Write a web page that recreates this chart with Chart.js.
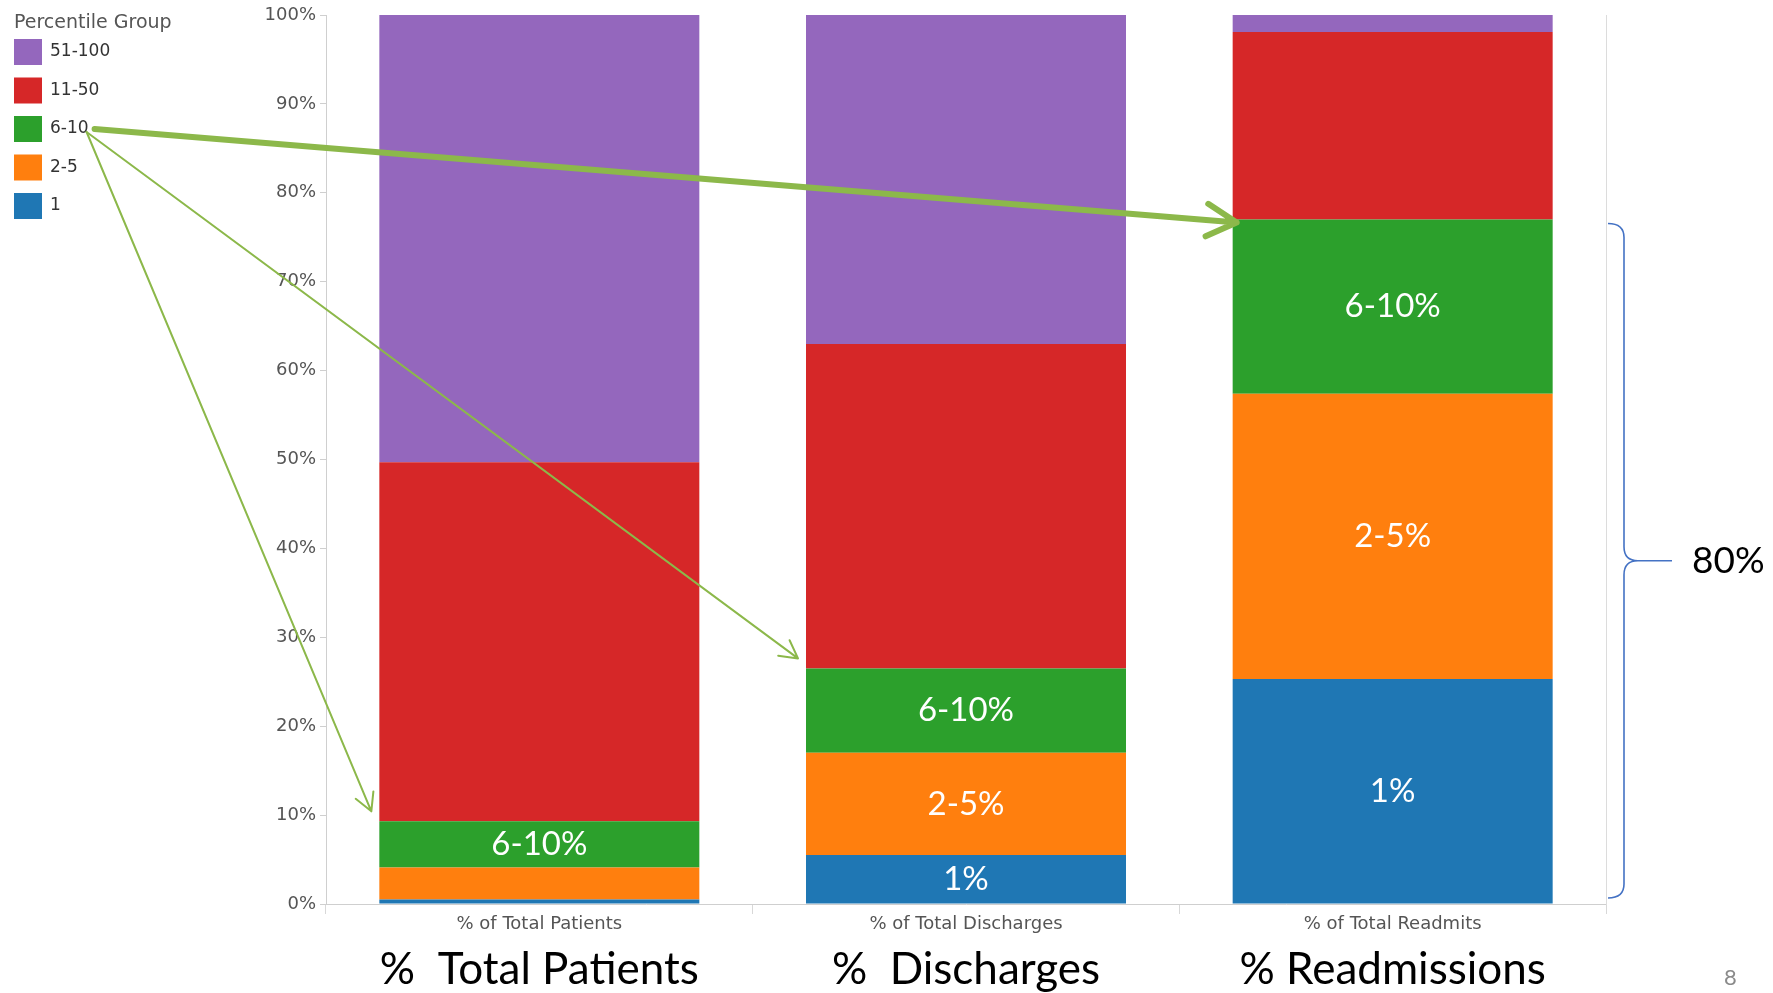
<!DOCTYPE html>
<html>
<head>
<meta charset="utf-8">
<script src="https://cdn.jsdelivr.net/npm/chart.js@4.4.1/dist/chart.umd.min.js"></script>
<style>
  body { margin: 0; background: #fff; }
  canvas { display: block; }
</style>
</head>
<body>
<canvas id="chartGroups" width="1773" height="993"></canvas>
<script>
// categories (small axis labels and the big slide labels under them)
const categories = ['% of Total Patients', '% of Total Discharges', '% of Total Readmits'];
const bigLabels = ['%  Total Patients', '%  Discharges', '% Readmissions'];
const yTicks = [0, 10, 20, 30, 40, 50, 60, 70, 80, 90, 100];

// share of each percentile group (%)
const group1 = [0.5, 5.5, 25.3];
const group2to5 = [3.6, 11.5, 32.1];
const group6to10 = [5.2, 9.5, 19.6];
const group11to50 = [40.4, 36.5, 21.1];
const group51to100 = [50.3, 37.0, 1.9];

const braceText = '80%';
const pageNumber = '8';

const green = '#2ca02c';
const arrowColor = '#8cb84a';

function drawArrow(ctx, x1, y1, x2, y2, width, head) {
  const a = Math.atan2(y2 - y1, x2 - x1);
  ctx.save();
  ctx.strokeStyle = arrowColor;
  ctx.lineWidth = width;
  ctx.lineCap = 'round';
  ctx.lineJoin = 'round';
  ctx.beginPath();
  ctx.moveTo(x1, y1);
  ctx.lineTo(x2, y2);
  ctx.moveTo(x2 - head * Math.cos(a - 0.5), y2 - head * Math.sin(a - 0.5));
  ctx.lineTo(x2, y2);
  ctx.lineTo(x2 - head * Math.cos(a + 0.5), y2 - head * Math.sin(a + 0.5));
  ctx.stroke();
  ctx.restore();
}

const overlay = {
  id: 'overlay',
  afterDatasetsDraw(chart) {
    const ctx = chart.ctx;
    ctx.save();
    ctx.fillStyle = '#fff';
    ctx.font = '33px Lato';
    ctx.textAlign = 'center';
    ctx.textBaseline = 'middle';
    chart.data.datasets.forEach((ds, di) => {
      if (!ds.inside) return;
      chart.getDatasetMeta(di).data.forEach((bar) => {
        const h = bar.base - bar.y;
        if (h < 40) return;
        ctx.fillText(ds.label + '%', bar.x, (bar.y + bar.base) / 2);
      });
    });
    ctx.restore();
  },
  afterDraw(chart) {
    const ctx = chart.ctx;
    const y = chart.scales.y;
    const area = chart.chartArea;

    // legend
    ctx.save();
    ctx.fillStyle = '#555';
    ctx.font = '19px "DejaVu Sans"';
    ctx.textBaseline = 'middle';
    ctx.fillText('Percentile Group', 14, 23);
    ctx.font = '17px "DejaVu Sans"';
    let legendEnd = null;
    const items = chart.data.datasets.slice().reverse();
    items.forEach((ds, i) => {
      const cy = 52 + i * 38.5;
      ctx.fillStyle = ds.backgroundColor;
      ctx.fillRect(14, cy - 13, 28, 26);
      ctx.fillStyle = '#333';
      ctx.fillText(ds.label, 50, cy);
      if (ds.label === '6-10') legendEnd = { x: 50 + ctx.measureText(ds.label).width, y: cy };
    });
    ctx.restore();

    // arrows from the 6-10 legend entry to the top of each green segment
    const gi = chart.data.datasets.findIndex((d) => d.label === '6-10');
    const bars = chart.getDatasetMeta(gi).data;
    bars.forEach((bar, i) => {
      const left = bar.x - bar.width / 2;
      if (i === 2) {
        drawArrow(ctx, legendEnd.x + 6, legendEnd.y, left + 4, bar.y + 3, 6, 34);
      } else {
        drawArrow(ctx, legendEnd.x - 2, legendEnd.y + 3, left - 8, bar.y - 10, 2, 20);
      }
    });

    // brace over the bottom three groups of the last bar
    const b3 = bars[2];
    const top = b3.y + 4;
    const bottom = y.getPixelForValue(0) - 6;
    const mid = (top + bottom) / 2;
    const xs = area.right + 2, xv = area.right + 18, xt = area.right + 66, r = 14;
    ctx.save();
    ctx.strokeStyle = '#4472c4';
    ctx.lineWidth = 1.6;
    ctx.beginPath();
    ctx.moveTo(xs, top);
    ctx.quadraticCurveTo(xv, top, xv, top + r);
    ctx.lineTo(xv, mid - r);
    ctx.quadraticCurveTo(xv, mid, xv + r, mid);
    ctx.lineTo(xt, mid);
    ctx.moveTo(xv + r, mid);
    ctx.quadraticCurveTo(xv, mid, xv, mid + r);
    ctx.lineTo(xv, bottom - r);
    ctx.quadraticCurveTo(xv, bottom, xs, bottom);
    ctx.stroke();
    ctx.fillStyle = '#000';
    ctx.font = '37px Lato';
    ctx.textBaseline = 'middle';
    ctx.fillText(braceText, xt + 20, mid);

    ctx.fillStyle = '#8a8a8a';
    ctx.font = '22px Lato';
    ctx.fillText(pageNumber, 1724, 978);
    ctx.restore();
  }
};

const ctx = document.getElementById('chartGroups').getContext('2d');

const chart = new Chart(ctx, {
  type: 'bar',
  data: {
    labels: categories,
    datasets: [
      { label: '1', data: group1, backgroundColor: '#1f77b4', inside: true },
      { label: '2-5', data: group2to5, backgroundColor: '#ff7f0e', inside: true },
      { label: '6-10', data: group6to10, backgroundColor: green, inside: true },
      { label: '11-50', data: group11to50, backgroundColor: '#d62728' },
      { label: '51-100', data: group51to100, backgroundColor: '#9467bd' }
    ]
  },
  options: {
    responsive: false,
    animation: false,
    layout: { padding: { left: 0, right: 167, top: 15, bottom: 0 } },
    datasets: { bar: { barPercentage: 0.75, categoryPercentage: 1.0 } },
    plugins: {
      legend: { display: false },
      tooltip: { enabled: false }
    },
    scales: {
      x: {
        stacked: true,
        grid: { drawOnChartArea: false, tickLength: 10, color: '#d8d8d8' },
        border: { color: '#cfcfcf' },
        ticks: { color: '#555', font: { size: 18, family: 'DejaVu Sans' }, padding: 0 },
        afterFit: (s) => { s.height = 31; }
      },
      x2: {
        type: 'category',
        labels: bigLabels,
        position: 'bottom',
        grid: { display: false },
        border: { display: false },
        ticks: { color: '#000', font: { size: 44, family: 'Lato' }, padding: 0 },
        afterFit: (s) => { s.height = 58; }
      },
      y: {
        stacked: true,
        min: 0,
        max: 100,
        afterBuildTicks: (s) => { s.ticks = yTicks.map((v) => ({ value: v })); },
        grid: { drawOnChartArea: false, tickLength: 6, color: '#cfcfcf' },
        border: { color: '#cfcfcf' },
        ticks: {
          color: '#555',
          font: { size: 18, family: 'DejaVu Sans' },
          padding: 4,
          callback: function (value) { return value + '%'; }
        },
        afterFit: (s) => { s.width = 326; }
      },
      yr: {
        position: 'right',
        min: 0,
        max: 100,
        grid: { display: false },
        border: { color: '#dcdcdc' },
        ticks: { display: false },
        afterFit: (s) => { s.width = 0; }
      }
    }
  },
  plugins: [overlay]
});
</script>
</body>
</html>
